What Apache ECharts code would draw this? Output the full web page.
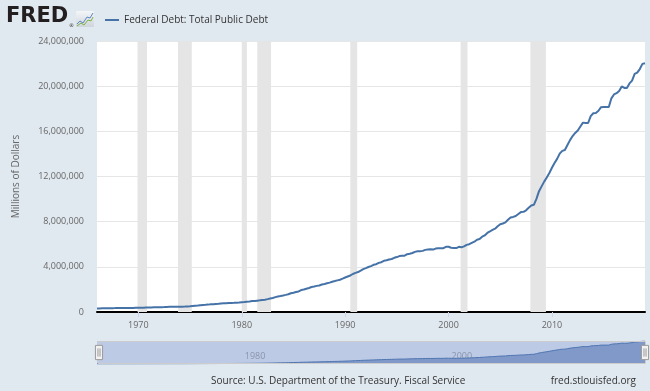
<!DOCTYPE html>
<html>
<head>
<meta charset="utf-8">
<script src="https://cdn.jsdelivr.net/npm/echarts@6/dist/echarts.min.js"></script>
<style>
html,body{margin:0;padding:0;background:#e1e9f0;}
#chart{width:650px;height:391px;}
</style>
</head>
<body>
<div id="chart"></div>
<script>
// ---- data (millions of dollars, quarterly, FRED GFDEBTN) ----
const seriesName = 'Federal Debt: Total Public Debt';
const years = [1966,1967,1968,1969,1970,1971,1972,1973,1974,1975,1976,1977,1978,1979,
  1980,1981,1982,1983,1984,1985,1986,1987,1988,1989,1990,1991,1992,1993,1994,1995,1996,
  1997,1998,1999,2000,2001,2002,2003,2004,2005,2006,2007,2008,2009,2010,2011,2012,2013,
  2014,2015,2016,2017,2018,2019];
const debtQuarterly = [
  [320999,316097,323679,329319],
  [329534,326221,340445,344663],
  [350460,347578,355115,358029],
  [359474,353720,360007,368226],
  [370919,370919,383018,389158],
  [390700,398130,414421,424131],
  [427990,427260,435177,449298],
  [458140,458142,465424,469898],
  [474235,475060,481511,492665],
  [509664,533189,554744,576649],
  [599190,620433,634701,653544],
  [680118,685194,709138,729200],
  [758801,771544,780425,789207],
  [796952,812240,829470,845116],
  [873620,884384,914317,930210],
  [964531,971189,1003941,1034700],
  [1066424,1084701,1142034,1201923],
  [1244507,1319586,1377210,1410702],
  [1463721,1517157,1572266,1663017],
  [1710695,1774619,1823103,1945941],
  [1986820,2059339,2125303,2214835],
  [2250710,2313112,2350277,2431715],
  [2487565,2547745,2602338,2684392],
  [2740883,2799874,2857431,2952994],
  [3052037,3143792,3233313,3364820],
  [3465190,3538162,3665303,3801698],
  [3881288,3984705,4064621,4177009],
  [4230580,4352044,4411489,4535687],
  [4575869,4645804,4692750,4800150],
  [4864114,4951372,4973983,4988665],
  [5117786,5161076,5224811,5323172],
  [5380862,5376152,5413146,5502388],
  [5542430,5547890,5526193,5614217],
  [5651615,5638780,5656271,5776091],
  [5773392,5685938,5674178,5662216],
  [5773740,5726815,5807463,5943439],
  [6006032,6126469,6228236,6405707],
  [6460776,6670121,6783231,6997964],
  [7131068,7274335,7379053,7596144],
  [7776939,7836496,7932710,8170424],
  [8371156,8420042,8507026,8680224],
  [8849665,8867675,9007653,9229172],
  [9437594,9492006,10024725,10699805],
  [11126941,11545275,11909829,12311350],
  [12773123,13201790,13561623,14025215],
  [14270114,14343088,14790340,15222940],
  [15582079,15855516,16066241,16432730],
  [16771383,16738184,16738161,17351971],
  [17601227,17632606,17824071,18141444],
  [18152056,18152104,18150618,18922179],
  [19264939,19381591,19573445,19976827],
  [19846420,19844554,20244900,20492874],
  [21089643,21195070,21516058,21974096],
  [22027880]
];
// NBER recessions (decimal years: peak month to trough month)
const recessions = [
  [1969.917,1970.833],[1973.833,1975.167],[1980.0,1980.5],[1981.5,1982.833],
  [1990.5,1991.167],[2001.167,2001.833],[2007.917,2009.417]
];
const yTicks = [0,4000000,8000000,12000000,16000000,20000000,24000000];
const xTickYears = [1970,1980,1990,2000,2010];
const navTickYears = [1980,2000];
const xMin = 1966, xMax = 2019;

const data = [];
years.forEach((y,i)=>{ debtQuarterly[i].forEach((v,q)=>{ data.push([y + q*0.25, v]); }); });

const FONT = '"Open Sans", sans-serif';
const chart = echarts.init(document.getElementById('chart'));
chart.setOption({
  backgroundColor: '#e1e9f0',
  animation: false,
  textStyle: {fontFamily: FONT},
  legend: {
    data: [seriesName],
    left: 100, top: 10,
    icon: 'rect', itemWidth: 14, itemHeight: 2, itemGap: 5,
    textStyle: {fontSize: 10, color: '#333', fontFamily: FONT},
    selectedMode: false
  },
  grid: [
    {left: 97, right: 5, top: 41, bottom: 79, show: true, backgroundColor: '#ffffff', borderWidth: 0},
    {left: 97, right: 5, top: 341, height: 23, show: true, backgroundColor: '#bccae6', borderWidth: 0}
  ],
  xAxis: [
    {
      type: 'value', gridIndex: 0, min: xMin, max: xMax,
      axisLine: {show: true, onZero: false, lineStyle: {color: '#000', width: 2}},
      axisTick: {show: true, customValues: xTickYears, length: 5, lineStyle: {color: '#ccd6eb'}},
      axisLabel: {customValues: xTickYears, fontSize: 9, color: '#666', margin: 9, fontFamily: FONT,
        formatter: v => String(v)},
      splitLine: {show: false}
    },
    {
      type: 'value', gridIndex: 1, min: xMin, max: xMax,
      axisLine: {show: false}, axisTick: {show: false},
      axisLabel: {customValues: navTickYears, inside: true, align: 'left', verticalAlign: 'bottom',
        padding: [0,0,0,3], margin: 3, fontSize: 9, color: 'rgba(120,130,150,0.75)', fontFamily: FONT,
        formatter: v => String(v)},
      splitLine: {show: false}
    }
  ],
  yAxis: [
    {
      type: 'value', gridIndex: 0, min: 0, max: 24000000, interval: 4000000,
      name: 'Millions of Dollars', nameLocation: 'middle', nameGap: 76,
      nameTextStyle: {fontSize: 10, color: '#666', fontFamily: FONT},
      axisLine: {show: false}, axisTick: {show: false},
      axisLabel: {fontSize: 9, color: '#666', margin: 13, fontFamily: FONT,
        formatter: v => v.toLocaleString('en-US')},
      splitLine: {lineStyle: {color: '#e6e6e6', width: 1}}
    },
    {
      type: 'value', gridIndex: 1, min: 'dataMin', max: 'dataMax',
      axisLine: {show: false}, axisTick: {show: false}, axisLabel: {show: false}, splitLine: {show: false}
    }
  ],
  dataZoom: [{
    type: 'slider', xAxisIndex: 0, start: 0, end: 100, filterMode: 'none',
    left: 97, right: 5, top: 341, height: 23,
    backgroundColor: 'rgba(0,0,0,0)', borderColor: '#cccccc',
    fillerColor: 'rgba(0,0,0,0)',
    showDataShadow: false, showDetail: false, brushSelect: false,
    moveHandleSize: 0,
    handleIcon: 'path://M0,0 L7,0 L7,14 L0,14 Z M2.5,3 L2.5,11 M4.5,3 L4.5,11',
    handleSize: '62%',
    handleStyle: {color: '#f2f2f2', borderColor: '#999999', borderWidth: 1},
    dataBackground: {lineStyle: {opacity: 0}, areaStyle: {opacity: 0}},
    selectedDataBackground: {lineStyle: {opacity: 0}, areaStyle: {opacity: 0}},
    emphasis: {handleStyle: {color: '#f2f2f2', borderColor: '#999999'}}
  }],
  series: [
    {
      name: 'recessions', type: 'line', xAxisIndex: 0, yAxisIndex: 0, data: [], z: 1, silent: true,
      markArea: {
        silent: true,
        itemStyle: {color: '#e5e5e5'},
        data: recessions.map(r => [{xAxis: r[0]}, {xAxis: r[1]}])
      }
    },
    {
      name: seriesName, type: 'line', xAxisIndex: 0, yAxisIndex: 0, data: data, z: 3,
      showSymbol: false, symbol: 'none',
      lineStyle: {color: '#4572a7', width: 2}, itemStyle: {color: '#4572a7'}
    },
    {
      name: 'navigator', type: 'line', xAxisIndex: 1, yAxisIndex: 1, data: data, z: 2,
      showSymbol: false, symbol: 'none', silent: true,
      lineStyle: {color: '#4f75b0', width: 1},
      areaStyle: {color: '#8099c9', opacity: 1}
    }
  ],
  graphic: [
    {type: 'text', left: 6, top: 6, style: {text: 'FRED', font: 'bold 21px "DejaVu Sans"', fill: '#231f20'}},
    {type: 'text', left: 69, top: 23, style: {text: '®', font: '5px "DejaVu Sans"', fill: '#231f20'}},
    {type: 'rect', shape: {x: 76, y: 11, width: 18, height: 16, r: 1},
      style: {fill: new echarts.graphic.LinearGradient(0,0,0,1,[{offset:0,color:'#f4f6f8'},{offset:1,color:'#cfd5dc'}])}},
    {type: 'polyline', shape: {points: [[77,24],[80,21],[83,23],[87,17],[90,18],[93,13]]},
      style: {stroke: '#5b86c5', lineWidth: 1, fill: null}},
    {type: 'polyline', shape: {points: [[77,26],[81,23],[84,25],[88,20],[91,21],[93,17]]},
      style: {stroke: '#7cb342', lineWidth: 1, fill: null}},
    {type: 'text', left: 211, top: 376, style: {text: 'Source: U.S. Department of the Treasury. Fiscal Service', font: '10px "Open Sans"', fill: '#333'}},
    {type: 'text', right: 14, top: 376, style: {text: 'fred.stlouisfed.org', font: '10px "Open Sans"', fill: '#333'}}
  ]
});
</script>
</body>
</html>
